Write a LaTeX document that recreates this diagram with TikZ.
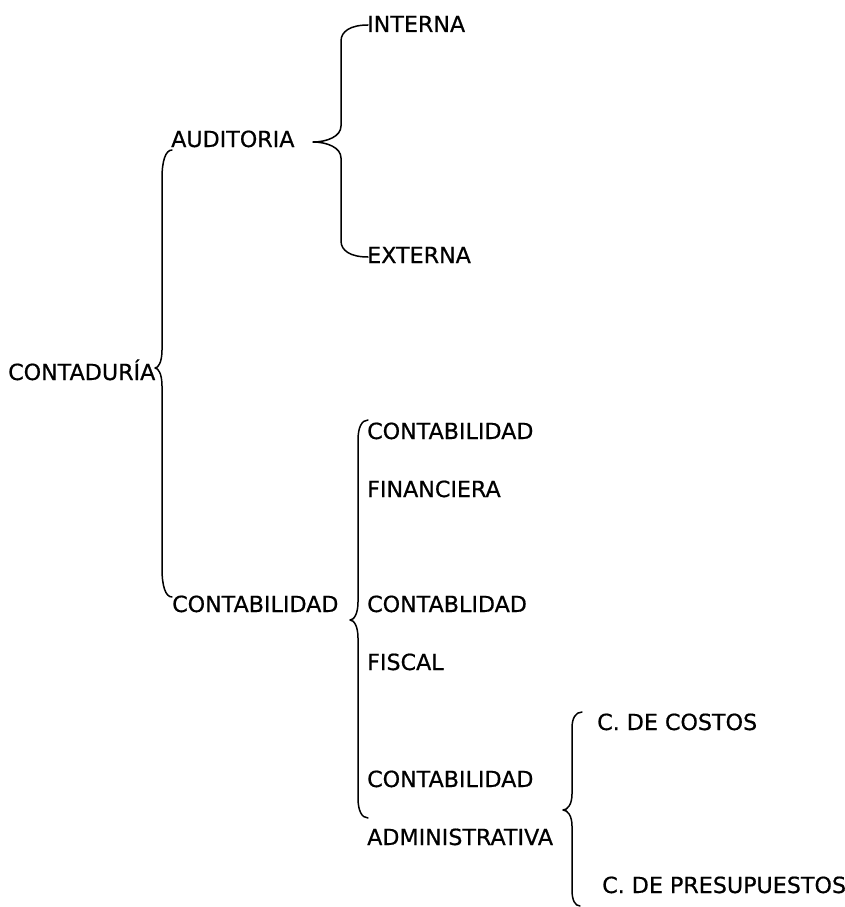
\documentclass[tikz,border=0pt]{standalone}
\usepackage{fontspec}
\setmainfont[FakeBold=0.6]{DejaVu Sans}
\newcommand\curlybr[9]{%
  % #1 xv, #2 tipx, #3 tipy, #4 topx, #5 topy, #6 botx, #7 boty, #8 r, #9 rtip
  \draw[bracestyle] (#4,#5) .. controls (#1+0.35*#4-0.35*#1,#5) and (#1,#5+0.4*#8) .. (#1,#5+#8)
    -- (#1,#3-#9) .. controls (#1,#3-0.35*#9) and (#2+0.5*#1-0.5*#2,#3) .. (#2,#3)
    .. controls (#2+0.5*#1-0.5*#2,#3) and (#1,#3+0.35*#9) .. (#1,#3+#9)
    -- (#1,#7-#8) .. controls (#1,#7-0.4*#8) and (#1+0.35*#6-0.35*#1,#7) .. (#6,#7);}
\begin{document}
\begin{tikzpicture}[x=1pt,y=-1pt,
  lbl/.style={anchor=base west,inner sep=0pt,font=\fontsize{22.2}{26}\selectfont},
  bracestyle/.style={draw=black,line width=1.5pt,line cap=round,line join=round}]
\path[use as bounding box,fill=white] (0,0) rectangle (845,907);
% level 0
\node[lbl] (contaduria) at (8,380) {CONTADURÍA};
% level 1
\node[lbl] (auditoria) at (171,147) {AUDITORIA};
\node[lbl] (contab) at (172,612) {CONTABILIDAD};
% level 2 under auditoria
\node[lbl] (interna) at (367,32) {INTERNA};
\node[lbl] (externa) at (367,263) {EXTERNA};
% level 2 under contabilidad
\node[lbl] (cfin1) at (367,439) {CONTABILIDAD};
\node[lbl] (cfin2) at (367,497) {FINANCIERA};
\node[lbl] (cfis1) at (367,612) {CONTABLIDAD};
\node[lbl] (cfis2) at (367,670) {FISCAL};
\node[lbl] (cadm1) at (367,787) {CONTABILIDAD};
\node[lbl] (cadm2) at (367,845) {ADMINISTRATIVA};
% level 3
\node[lbl] (costos) at (597,730) {C. DE COSTOS};
\node[lbl] (presup) at (602,893) {C. DE PRESUPUESTOS};
% braces
\curlybr{162}{155}{368}{172}{150}{172}{597}{28}{18}
\curlybr{341}{313}{142}{368}{25}{368}{257}{16}{16}
\curlybr{358}{350}{620}{368}{420}{368}{818}{20}{18}
\curlybr{572}{563}{810}{582}{712}{580}{906}{16}{16}
\end{tikzpicture}
\end{document}
